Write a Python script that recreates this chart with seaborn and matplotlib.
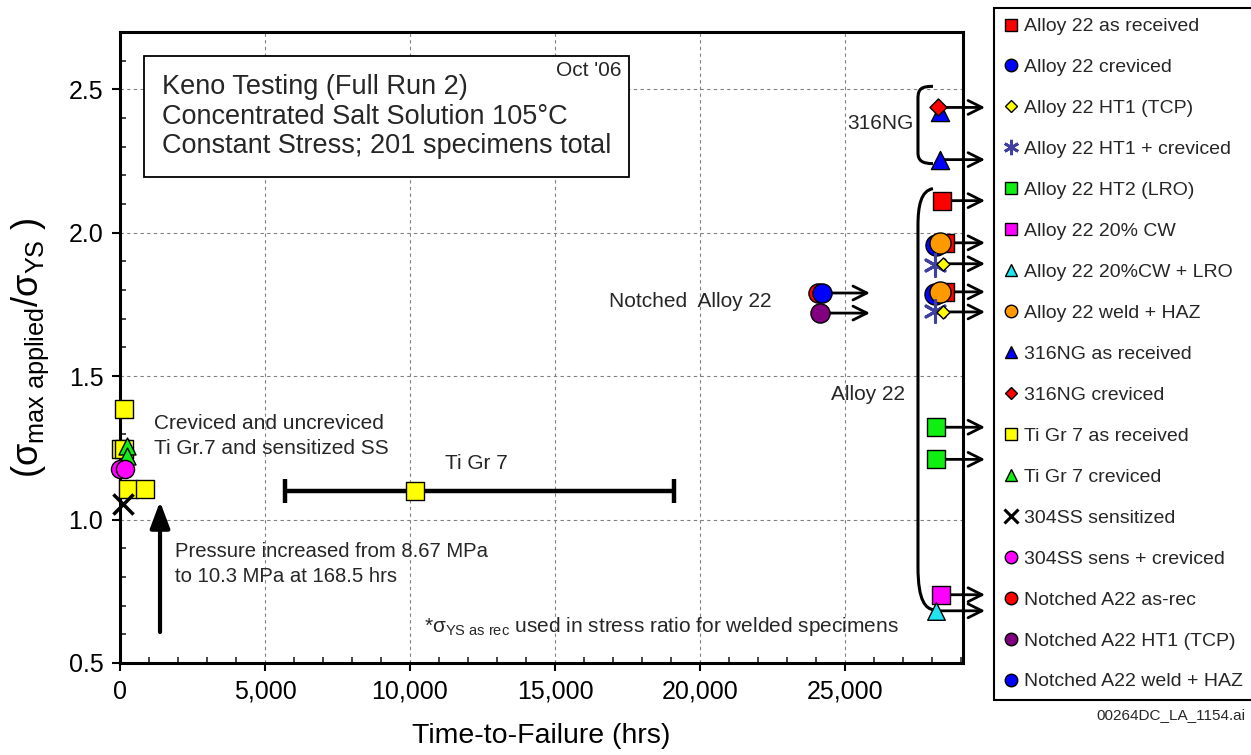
import numpy as np
import pandas as pd
import matplotlib
matplotlib.use("Agg")
import matplotlib.pyplot as plt
import seaborn as sns
from matplotlib.lines import Line2D
from matplotlib.path import Path
from matplotlib.patches import PathPatch, Rectangle
from matplotlib.transforms import Bbox
from matplotlib.ticker import MultipleLocator, FuncFormatter

# ---------------- data ----------------
a22_asrec_x = [28345, 28450, 28450]
a22_asrec_y = [2.112, 1.965, 1.794]
a22_crev_x = [28138, 28100]
a22_crev_y = [1.958, 1.787]
a22_ht1_x = [28380, 28380]
a22_ht1_y = [1.892, 1.724]
a22_ht1crev_x = [28100, 28100]
a22_ht1crev_y = [1.888, 1.727]
a22_ht2_x = [28138, 28138]
a22_ht2_y = [1.322, 1.210]
a22_cw_x = [28310]
a22_cw_y = [0.738]
a22_cwlro_x = [28138]
a22_cwlro_y = [0.682]
a22_weld_x = [28276, 28276]
a22_weld_y = [1.965, 1.794]
ng_asrec_x = [28276, 28276]
ng_asrec_y = [2.420, 2.255]
ng_crev_x = [28207]
ng_crev_y = [2.437]
ti_asrec_x = [138, 30, 150, 276, 862, 10170]
ti_asrec_y = [1.385, 1.245, 1.245, 1.108, 1.108, 1.098]
ti_crev_x = [240, 240]
ti_crev_y = [1.258, 1.222]
ss_sens_x = [100]
ss_sens_y = [1.056]
ss_senscrev_x = [0, 170]
ss_senscrev_y = [1.175, 1.175]
n_asrec_x = [24069]
n_asrec_y = [1.790]
n_ht1_x = [24138]
n_ht1_y = [1.720]
n_weld_x = [24207]
n_weld_y = [1.790]

# Ti Gr 7 range bar (hrs)
tirange_lo, tirange_hi = 5700, 19110

# run-out arrows
runout_start_x = 28300
runout_end_x = 29830
runout_y = [2.437, 2.255, 2.112, 1.965, 1.892, 1.794, 1.724, 1.322, 1.210, 0.738, 0.682]
notched_start_x = 24207
notched_end_x = 25862
notched_runout_y = [1.790, 1.720]

labels = ["Alloy 22 as received", "Alloy 22 creviced", "Alloy 22 HT1 (TCP)",
          "Alloy 22 HT1 + creviced", "Alloy 22 HT2 (LRO)", "Alloy 22 20% CW",
          "Alloy 22 20%CW + LRO", "Alloy 22 weld + HAZ", "316NG as received",
          "316NG creviced", "Ti Gr 7 as received", "Ti Gr 7 creviced",
          "304SS sensitized", "304SS sens + creviced", "Notched A22 as-rec",
          "Notched A22 HT1 (TCP)", "Notched A22 weld + HAZ"]

title_lines = ["Keno Testing (Full Run 2)",
               "Concentrated Salt Solution 105\u00b0C",
               "Constant Stress; 201 specimens total"]

# ---------------- style ----------------
sns.set_theme(style="white")
plt.rcParams['font.family'] = ['Liberation Sans', 'DejaVu Sans']
plt.rcParams['mathtext.fontset'] = 'custom'
plt.rcParams['mathtext.rm'] = 'Liberation Sans'
plt.rcParams['mathtext.it'] = 'Liberation Sans'
plt.rcParams['mathtext.bf'] = 'Liberation Sans:bold'

W, H = 1251, 755
fig = plt.figure(figsize=(W / 100, H / 100), dpi=100)
fig.patch.set_facecolor('white')
ax = fig.add_axes([120 / W, 1 - 663 / H, (963 - 120) / W, (663 - 32) / H])
ax.set_facecolor('white')

XMIN, XMAX = 0, 29070
YMIN, YMAX = 0.5, 2.70
ax.set_xlim(XMIN, XMAX)
ax.set_ylim(YMIN, YMAX)

RED, BLUE, YEL = '#ff0000', '#0000ff', '#ffff00'
AST, GRN, MAG = '#4040a0', '#11ee11', '#ff00ff'
CYN, ORG, PUR = '#22e4f0', '#ff9900', '#800080'

def sc(x, y, marker, color, s, z, ec='black', lw=1.0):
    sns.scatterplot(x=x, y=y, marker=marker, color=color, s=s, edgecolor=ec,
                    linewidth=lw, ax=ax, zorder=z, clip_on=False, legend=False)

# range bar for Ti Gr 7
ax.errorbar([ti_asrec_x[-1]], [ti_asrec_y[-1]],
            xerr=[[ti_asrec_x[-1] - tirange_lo], [tirange_hi - ti_asrec_x[-1]]],
            fmt='none', ecolor='black', elinewidth=3.2, capsize=8.5, capthick=3.2, zorder=3)

# run-out arrows
for yy in runout_y:
    ax.annotate('', xy=(runout_end_x, yy), xytext=(runout_start_x, yy),
                arrowprops=dict(arrowstyle='->,head_length=0.5,head_width=0.25', lw=2,
                                color='black', mutation_scale=20, shrinkA=0, shrinkB=0),
                annotation_clip=False, zorder=3)
for yy in notched_runout_y:
    ax.annotate('', xy=(notched_end_x, yy), xytext=(notched_start_x, yy),
                arrowprops=dict(arrowstyle='->,head_length=0.5,head_width=0.25', lw=2,
                                color='black', mutation_scale=20, shrinkA=0, shrinkB=0),
                annotation_clip=False, zorder=3)

# markers (order matters for overlaps)
sc(a22_crev_x, a22_crev_y, 'o', BLUE, 230, 4)
sc(a22_asrec_x, a22_asrec_y, 's', RED, 170, 4)
sc(a22_weld_x, a22_weld_y, 'o', ORG, 230, 5)
sc(a22_ht1crev_x, a22_ht1crev_y, (6, 2, 0), AST, 245, 6, ec=AST, lw=2.2)
sc(a22_ht1_x, a22_ht1_y, 'D', YEL, 44, 7)
sc(a22_ht2_x, a22_ht2_y, 's', GRN, 170, 5)
sc(a22_cw_x, a22_cw_y, 's', MAG, 170, 5)
sc(a22_cwlro_x, a22_cwlro_y, '^', CYN, 160, 6)
sc(ng_asrec_x, ng_asrec_y, '^', BLUE, 170, 5)
sc(ng_crev_x, ng_crev_y, 'D', RED, 75, 6)
sc(ti_asrec_x, ti_asrec_y, 's', YEL, 150, 5)
sc(ti_crev_x, ti_crev_y, '^', GRN, 150, 6)
sc(ss_sens_x, ss_sens_y, 'x', 'black', 210, 6, ec='black', lw=2.5)
sc(ss_senscrev_x, ss_senscrev_y, 'o', MAG, 170, 7)
sc(n_asrec_x, n_asrec_y, 'o', RED, 190, 5)
sc(n_weld_x, n_weld_y, 'o', BLUE, 190, 6)
sc(n_ht1_x, n_ht1_y, 'o', PUR, 190, 5)

# ---------------- axes styling ----------------
ax.xaxis.set_major_locator(MultipleLocator(5000))
ax.xaxis.set_minor_locator(MultipleLocator(1000))
ax.yaxis.set_major_locator(MultipleLocator(0.5))
ax.yaxis.set_minor_locator(MultipleLocator(0.1))
ax.xaxis.set_major_formatter(FuncFormatter(lambda v, p: f"{int(round(v)):,}"))
ax.yaxis.set_major_formatter(FuncFormatter(lambda v, p: f"{v:.1f}"))
ax.tick_params(which='major', direction='out', length=6, width=1.5, labelsize=18,
               colors='black', pad=6, bottom=True, left=True)
ax.tick_params(which='minor', direction='in', length=4, width=1.2, bottom=True, left=True)
ax.grid(True, which='major', linestyle=(0, (3, 3)), color='#808080', linewidth=0.8)
for sp in ax.spines.values():
    sp.set_linewidth(2.2)
    sp.set_color('black')
    sp.set_zorder(2.5)

ax.set_xlabel('Time-to-Failure (hrs)', fontsize=20.5, labelpad=14, color='black')
ax.set_ylabel(r'$(\sigma_{\mathrm{max\ applied}}/\sigma_{\mathrm{YS}}$ )', fontsize=26,
              labelpad=13, color='black')

# ---------------- brackets ----------------
def px2d(px, py):
    return ((px - 120) / 0.029, 2.5 - (py - 89) / 286.0)

def bracket(points_px, codes):
    verts = [px2d(*p) for p in points_px]
    patch = PathPatch(Path(verts, codes), fill=False, lw=2.2, edgecolor='black',
                      clip_on=False, zorder=3)
    ax.add_patch(patch)

C4, L2, M = Path.CURVE4, Path.LINETO, Path.MOVETO
bracket([(933, 86), (922, 86), (918, 88), (918, 98), (918, 152), (918, 160), (922, 163), (933, 163)],
        [M, C4, C4, C4, L2, C4, C4, C4])
bracket([(933, 188), (921, 190), (918, 205), (918, 225), (918, 565), (918, 600), (926, 607), (934, 608)],
        [M, C4, C4, C4, L2, C4, C4, C4])

# ---------------- annotations ----------------
title_y = [2.507, 2.405, 2.302]
title_texts = [ax.text(1448, yy, s, fontsize=19.5, va='center', ha='left', zorder=9)
               for s, yy in zip(title_lines, title_y)]
ax.text(17310, 2.566, "Oct '06", fontsize=15, ha='right', va='center', zorder=9)
ax.text(27380, 2.381, "316NG", fontsize=15, ha='right', va='center')
ax.text(27070, 1.437, "Alloy 22", fontsize=15, ha='right', va='center')
ax.text(22480, 1.762, "Notched  Alloy 22", fontsize=15, ha='right', va='center')
ax.text(1172, 1.336, "Creviced and uncreviced", fontsize=15, ha='left', va='center')
ax.text(1172, 1.248, "Ti Gr.7 and sensitized SS", fontsize=15, ha='left', va='center')
ax.text(12276, 1.196, "Ti Gr 7", fontsize=15, ha='center', va='center')
ax.text(1900, 0.888, "Pressure increased from 8.67 MPa", fontsize=14.6, ha='left', va='center')
ax.text(1900, 0.800, "to 10.3 MPa at 168.5 hrs", fontsize=14.6, ha='left', va='center')
ax.text(10500, 0.626, r"*$\sigma_{\mathrm{YS\ as\ rec}}$ used in stress ratio for welded specimens",
        fontsize=15, ha='left', va='center')
ax.annotate('', xy=(1380, 1.063), xytext=(1380, 0.608),
            arrowprops=dict(arrowstyle='-|>,head_length=0.8,head_width=0.3', lw=3,
                            color='black', mutation_scale=20, shrinkA=0, shrinkB=0))

# frame of the title box, sized around its text lines
fig.canvas.draw()
rend = fig.canvas.get_renderer()
bb = Bbox.union([t.get_window_extent(renderer=rend) for t in title_texts])
pad = 18
inv = ax.transData.inverted()
(x0, y0) = inv.transform((bb.x0 - pad, bb.y0 - pad))
(x1, y1) = inv.transform((bb.x1 + pad, bb.y1 + pad))
ax.add_patch(Rectangle((x0, y0), x1 - x0, y1 - y0, facecolor='white', edgecolor='black',
                       linewidth=1.3, zorder=8))

# ---------------- legend ----------------
def h(marker, color, ms, ec='black', mew=1.0):
    return Line2D([], [], linestyle='none', marker=marker, markerfacecolor=color,
                  markeredgecolor=ec, markersize=ms, markeredgewidth=mew)

handles = [h('s', RED, 9), h('o', BLUE, 9), h('D', YEL, 6), h((6, 2, 0), AST, 11, ec=AST, mew=2),
           h('s', GRN, 9), h('s', MAG, 9), h('^', CYN, 9), h('o', ORG, 9),
           h('^', BLUE, 9), h('D', RED, 6), h('s', YEL, 9), h('^', GRN, 9),
           h('x', 'black', 10, ec='black', mew=2.2), h('o', MAG, 9), h('o', RED, 9),
           h('o', PUR, 9), h('o', BLUE, 9)]
leg = fig.legend(handles, labels, loc='upper left', bbox_to_anchor=(994 / W, 1 - 8 / H),
                 bbox_transform=fig.transFigure, frameon=True, fancybox=False,
                 edgecolor='black', framealpha=1, fontsize=14, labelspacing=1.2,
                 handlelength=0.7, handletextpad=0.35, borderpad=0.5, borderaxespad=0)
leg.get_frame().set_linewidth(1.5)

fig.text(1245 / W, 1 - 715 / H, "00264DC_LA_1154.ai", fontsize=11, ha='right', va='center')

fig.savefig('out.png', dpi=100, facecolor='white')
